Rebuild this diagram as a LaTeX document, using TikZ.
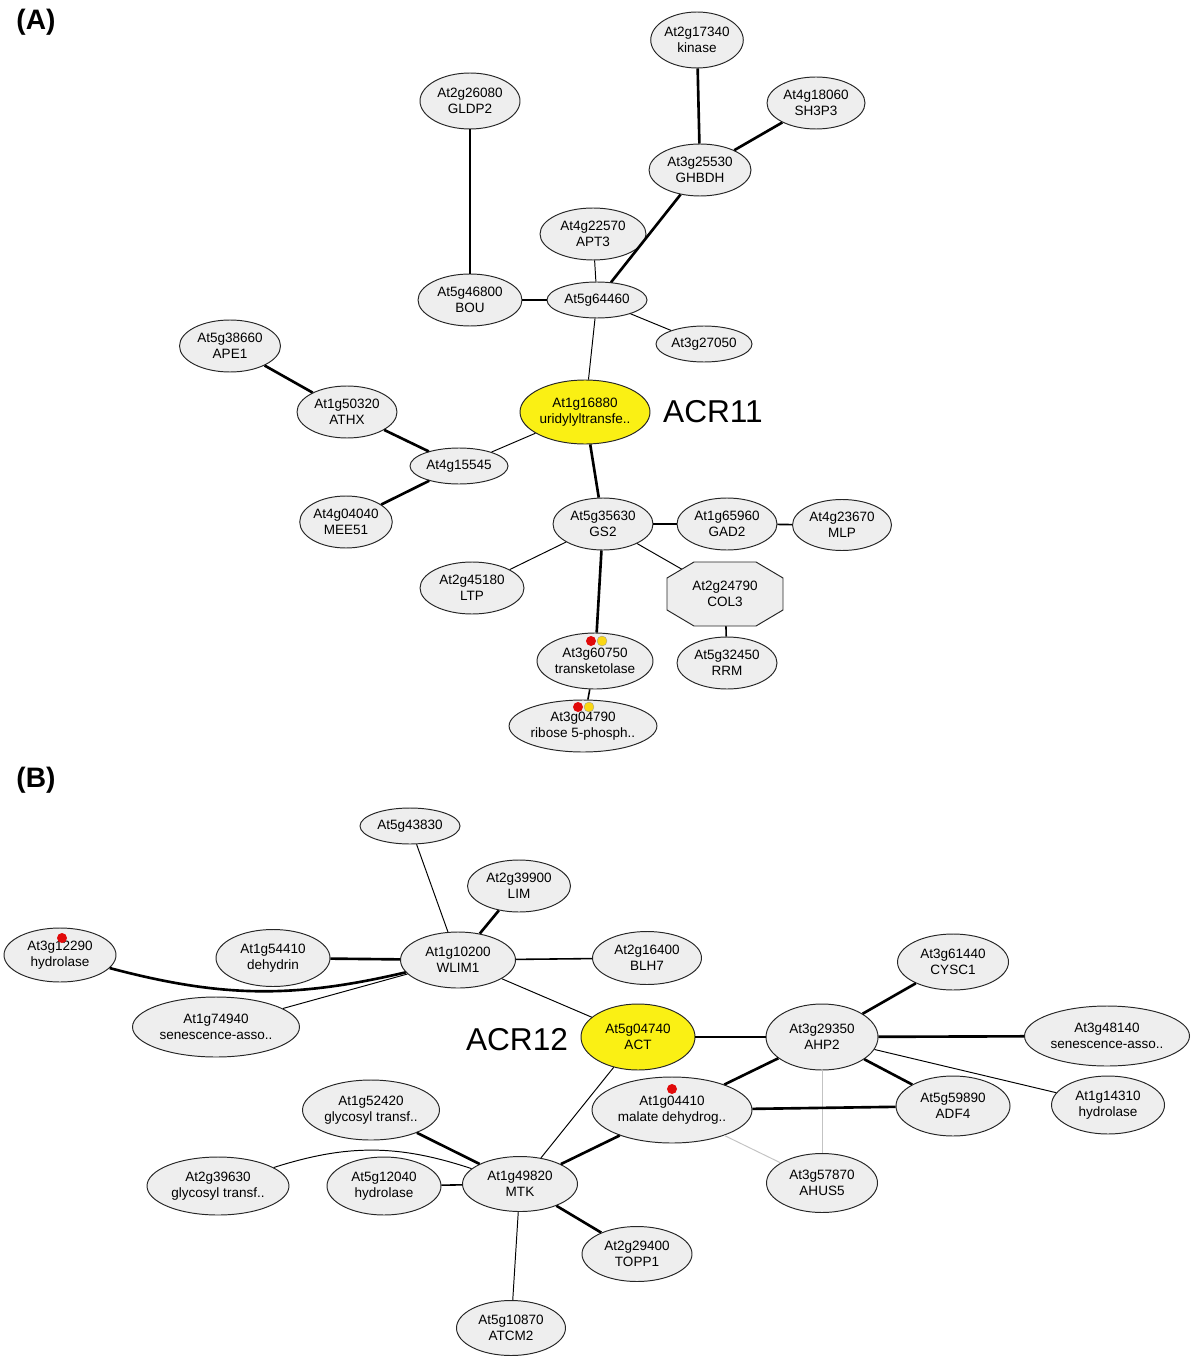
\documentclass[tikz,border=0pt]{standalone}
\usepackage{fontspec}
\setmainfont{Liberation Sans}
\usetikzlibrary{positioning,shapes.geometric,backgrounds}
\definecolor{nodeGray}{RGB}{238,238,238}
\definecolor{hubYellow}{RGB}{250,240,20}
\definecolor{dotRed}{RGB}{225,10,10}
\definecolor{dotYellow}{RGB}{250,215,20}
\definecolor{edgeGray}{RGB}{195,195,195}

\begin{document}
\begin{tikzpicture}[x=0.02cm,y=-0.02cm,
    gene/.style={ellipse, draw=black!85, line width=0.55pt, fill=nodeGray,
      inner sep=0pt, align=center, font=\fontsize{7.7}{9}\selectfont},
    hub/.style={gene, fill=hubYellow},
    sz/.style 2 args={minimum width=#1*0.02cm, minimum height=#2*0.02cm},
    weak/.style={line width=0.55pt},
    mid/.style={line width=0.9pt},
    strong/.style={line width=1.5pt},
    faint/.style={line width=0.55pt, draw=edgeGray},
    panel/.style={font=\fontsize{16}{16}\selectfont\bfseries},
    acr/.style={font=\fontsize{18}{18}\selectfont}]
  \useasboundingbox (0,0) rectangle (1200,1368);

  % ---------- panel (A) ----------
  \node[panel] (labA) at (36,22) {(A)};
  \node[gene, sz={86}{56}]  (kin)  at (697,40)  {At2g17340\\kinase};
  \node[gene, sz={98}{52}]  (sh3)  at (816,103) {At4g18060\\SH3P3};
  \node[gene, sz={100}{56}] (gldp) at (470,101) {At2g26080\\GLDP2};
  \node[gene, sz={102}{52}] (ghb)  at (700,170) {At3g25530\\GHBDH};
  \node[gene, sz={106}{52}] (apt)  at (593,234) {At4g22570\\APT3};
  \node[gene, sz={104}{52}] (bou)  at (470,300) {At5g46800\\BOU};
  \node[gene, sz={100}{36}] (g64)  at (597,300) {At5g64460};
  \node[gene, sz={96}{36}]  (g27)  at (704,344) {At3g27050};
  \node[gene, sz={101}{52}] (ape)  at (230,346) {At5g38660\\APE1};
  \node[hub,  sz={130}{64}] (uri)  at (585,412) {At1g16880\\uridylyltransfe..};
  \node[acr] (acrA) at (713,412) {ACR11};
  \node[gene, sz={100}{52}] (athx) at (347,412) {At1g50320\\ATHX};
  \node[gene, sz={98}{36}]  (g15)  at (459,466) {At4g15545};
  \node[gene, sz={86}{52}]  (mee)  at (346,522) {At4g04040\\MEE51};
  \node[gene, sz={100}{52}] (gs2)  at (603,524) {At5g35630\\GS2};
  \node[gene, sz={100}{52}] (gad)  at (727,524) {At1g65960\\GAD2};
  \node[gene, sz={99}{51}]  (mlp)  at (842,525) {At4g23670\\MLP};
  \node[gene, sz={104}{52}] (ltp)  at (472,588) {At2g45180\\LTP};
  % octagon for COL3
  \filldraw[fill=nodeGray, draw=black!85, line width=0.55pt]
    (667,578) -- (694,562) -- (756,562) -- (783,578) -- (783,610)
    -- (756,626) -- (694,626) -- (667,610) -- cycle;
  \node[gene, draw=none, fill=none] (col3) at (725,594) {At2g24790\\COL3};
  \node[gene, sz={116}{56}] (tkt)  at (595,661) {At3g60750\\transketolase};
  \node[gene, sz={100}{52}] (rrm)  at (727,663) {At5g32450\\RRM};
  \node[gene, sz={142}{52}] (rib)  at (583,726) {At3g04790\\ribose 5-phosph..};

  \draw[strong] (kin) -- (ghb);
  \draw[strong] (sh3) -- (ghb);
  \draw[strong] (ghb) -- (g64);
  \draw[strong] (gldp) -- (bou);
  \draw[mid] (bou) -- (g64);
  \draw[weak] (apt) -- (g64);
  \draw[weak] (g64) -- (g27);
  \draw[weak] (g64) -- (uri);
  \draw[weak] (uri) -- (g15);
  \draw[strong] (uri) -- (gs2);
  \draw[strong] (ape) -- (athx);
  \draw[strong] (athx) -- (g15);
  \draw[strong] (g15) -- (mee);
  \draw[strong] (gs2) -- (gad);
  \draw[mid] (gad) -- (mlp);
  \draw[weak] (gs2) -- (ltp);
  \begin{pgfonlayer}{background}
    \draw[weak] (gs2) -- (col3.center);
    \draw[mid] (col3.center) -- (rrm);
  \end{pgfonlayer}
  \draw[strong] (gs2) -- (tkt);
  \draw[mid] (tkt) -- (rib);

  % marks on the two enzymes
  \fill[dotRed] (591,641) circle (0.1cm);
  \filldraw[fill=dotYellow, draw=black!40, line width=0.2pt] (602,641) circle (0.1cm);
  \fill[dotRed] (578,707) circle (0.1cm);
  \filldraw[fill=dotYellow, draw=black!40, line width=0.2pt] (589,707) circle (0.1cm);

  % ---------- panel (B) ----------
  \node[panel] (labB) at (36,780) {(B)};
  \node[gene, sz={100}{36}] (b43)  at (410,826)  {At5g43830};
  \node[gene, sz={103}{52}] (lim)  at (519,886)  {At2g39900\\LIM};
  \node[gene, sz={112}{54}] (hyd1) at (60,955)   {At3g12290\\hydrolase};
  \node[gene, sz={114}{57}] (dehy) at (273,958)  {At1g54410\\dehydrin};
  \node[gene, sz={115}{56}] (wlim) at (458,960)  {At1g10200\\WLIM1};
  \node[gene, sz={109}{53}] (blh)  at (647,958)  {At2g16400\\BLH7};
  \node[gene, sz={111}{56}] (cysc) at (953,962)  {At3g61440\\CYSC1};
  \node[gene, sz={167}{60}] (sen1) at (216,1027) {At1g74940\\senescence-asso..};
  \node[acr] (acrB) at (517,1040) {ACR12};
  \node[hub,  sz={114}{66}] (act)  at (638,1037) {At5g04740\\ACT};
  \node[gene, sz={112}{66}] (ahp)  at (822,1037) {At3g29350\\AHP2};
  \node[gene, sz={165}{60}] (sen2) at (1107,1036) {At3g48140\\senescence-asso..};
  \node[gene, sz={137}{60}] (gly1) at (371,1110) {At1g52420\\glycosyl transf..};
  \node[gene, sz={160}{66}] (mdh)  at (672,1110) {At1g04410\\malate dehydrog..};
  \node[gene, sz={114}{60}] (adf)  at (953,1106) {At5g59890\\ADF4};
  \node[gene, sz={113}{58}] (hyd2) at (1108,1105) {At1g14310\\hydrolase};
  \node[gene, sz={142}{58}] (gly2) at (218,1186) {At2g39630\\glycosyl transf..};
  \node[gene, sz={114}{58}] (hyd3) at (384,1186) {At5g12040\\hydrolase};
  \node[gene, sz={115}{55}] (mtk)  at (520,1184) {At1g49820\\MTK};
  \node[gene, sz={111}{59}] (ahus) at (822,1183) {At3g57870\\AHUS5};
  \node[gene, sz={110}{55}] (topp) at (637,1254) {At2g29400\\TOPP1};
  \node[gene, sz={109}{55}] (atcm) at (511,1328) {At5g10870\\ATCM2};

  \draw[weak] (b43) -- (wlim);
  \draw[strong] (lim) -- (wlim);
  \draw[strong] (dehy) -- (wlim);
  \draw[mid] (wlim) -- (blh);
  \draw[strong] (hyd1) to[bend right=14] (wlim);
  \draw[weak] (sen1) -- (wlim);
  \draw[weak] (wlim) -- (act);
  \draw[strong] (act) -- (ahp);
  \draw[weak] (act) -- (mtk);
  \draw[strong] (ahp) -- (cysc);
  \draw[strong] (ahp) -- (sen2);
  \draw[weak] (ahp) -- (hyd2);
  \draw[strong] (ahp) -- (adf);
  \draw[strong] (ahp) -- (mdh);
  \draw[faint] (ahp) -- (ahus);
  \draw[strong] (mdh) -- (adf);
  \draw[faint] (mdh) -- (ahus);
  \draw[strong] (mdh) -- (mtk);
  \draw[strong] (gly1) -- (mtk);
  \draw[weak] (gly2) to[bend left=18] (mtk);
  \draw[mid] (hyd3) -- (mtk);
  \draw[strong] (mtk) -- (topp);
  \draw[weak] (mtk) -- (atcm);

  % marks
  \fill[dotRed] (62,938) circle (0.1cm);
  \fill[dotRed] (672,1089) circle (0.1cm);
\end{tikzpicture}
\end{document}
